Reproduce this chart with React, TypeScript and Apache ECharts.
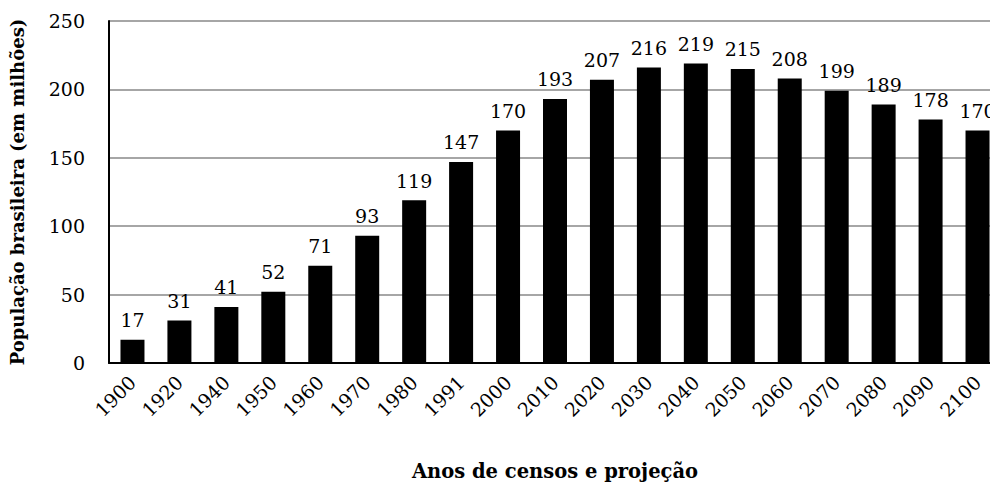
import React, { useEffect, useRef } from "react";
import * as echarts from "echarts";

const years = ["1900","1920","1940","1950","1960","1970","1980","1991","2000","2010","2020","2030","2040","2050","2060","2070","2080","2090","2100"];
const population = [17,31,41,52,71,93,119,147,170,193,207,216,219,215,208,199,189,178,170];
const yTitle = "População brasileira (em milhões)";
const xTitle = "Anos de censos e projeção";

const FONT = "DejaVu Serif";

export default function App() {
  const ref = useRef<HTMLDivElement>(null);
  useEffect(() => {
    if (!ref.current) return;
    const chart = echarts.init(ref.current, null, { renderer: "svg" });
    chart.setOption({
      animation: false,
      backgroundColor: "#ffffff",
      grid: { left: 106, right: 9, top: 21, bottom: 109, containLabel: false },
      xAxis: {
        type: "category",
        data: years,
        name: xTitle,
        nameLocation: "middle",
        nameGap: 98,
        nameTextStyle: { fontFamily: FONT, fontWeight: "bold", fontSize: 19.5, color: "#000" },
        axisTick: { show: false },
        axisLine: { lineStyle: { color: "#000", width: 2 } },
        axisLabel: { rotate: 45, fontFamily: FONT, fontSize: 19, color: "#000", margin: 16, interval: 0 },
      },
      yAxis: {
        type: "value",
        min: 0,
        max: 250,
        interval: 50,
        name: yTitle,
        nameLocation: "middle",
        nameRotate: 90,
        nameGap: 83,
        nameTextStyle: { fontFamily: FONT, fontWeight: "bold", fontSize: 18, color: "#000" },
        axisLine: { show: true, lineStyle: { color: "#000", width: 2 } },
        axisTick: { show: false },
        axisLabel: { fontFamily: FONT, fontSize: 19, color: "#000", margin: 24 },
        splitLine: { show: true, lineStyle: { color: "#a6a6a6", width: 2 } },
      },
      series: [
        {
          type: "bar",
          data: population,
          barWidth: 24,
          itemStyle: { color: "#000" },
          label: { show: true, position: "top", distance: 10, fontFamily: FONT, fontSize: 19, color: "#000" },
        },
      ],
    });
    return () => chart.dispose();
  }, []);
  return (
    <div style={{ position: "fixed", left: 0, top: 0, width: 990, height: 486, overflow: "hidden", background: "#fff" }}>
      <div ref={ref} style={{ width: 1010, height: 486 }} />
    </div>
  );
}
